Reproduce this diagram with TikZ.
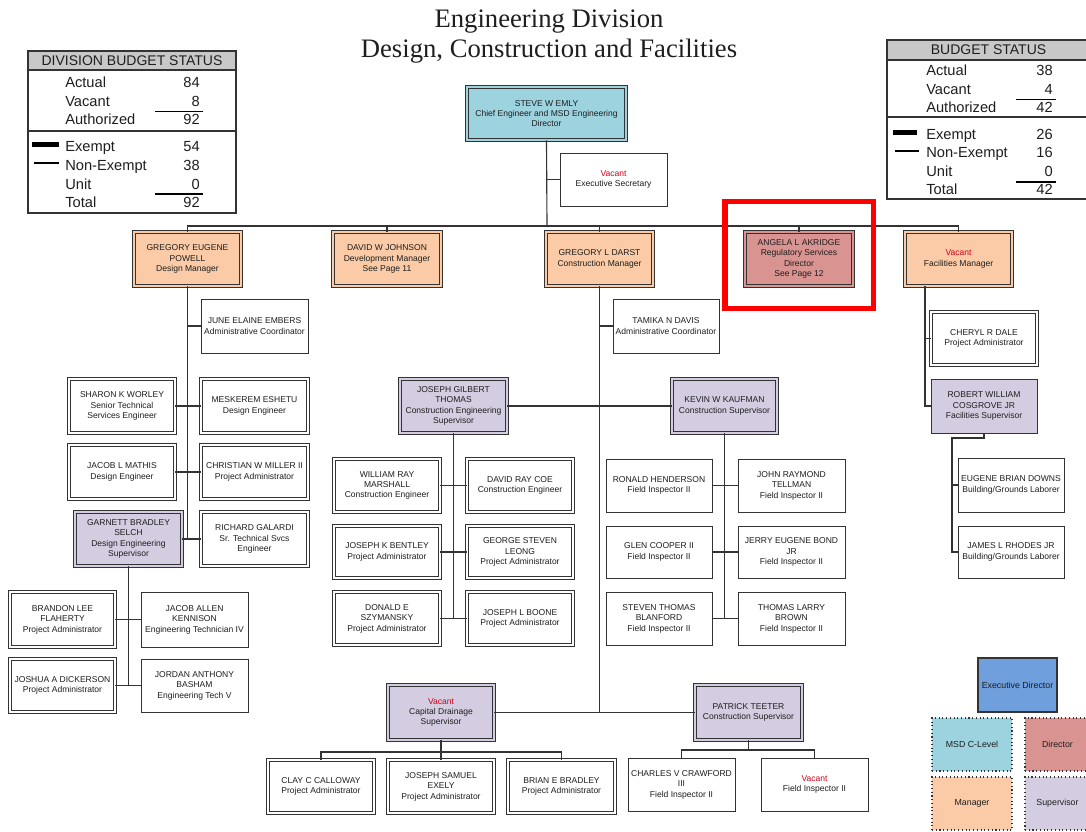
\documentclass[tikz,border=0pt]{standalone}
\usepackage{fontspec}
\setmainfont{Liberation Sans}
\newfontfamily\titlefont{Liberation Serif}
\definecolor{mgr}{HTML}{FACBA6}
\definecolor{ceo}{HTML}{9DD3DF}
\definecolor{dir}{HTML}{D99491}
\definecolor{sup}{HTML}{D4CDE1}
\definecolor{exd}{HTML}{6F9FDC}
\definecolor{vred}{HTML}{D0021B}
\definecolor{ln}{HTML}{333333}
\definecolor{hdr}{HTML}{C8C8C8}
\definecolor{txt}{HTML}{1E1E1E}
\newcommand\bxf{\fontsize{6.4}{7.8}\selectfont}
\newcommand\vac{{\color{vred}Vacant}}
\begin{document}
\begin{tikzpicture}[x=0.75pt,y=-0.75pt,
  rect/.style n args={4}{at={({(#1+#3)/2},{(#2+#4)/2})}, minimum width={(#3-#1)*0.75pt}, minimum height={(#4-#2)*0.75pt}},
  box/.style={inner sep=0pt, align=center, font=\bxf, text=txt},
  sx/.style={box, draw=ln, line width=0.6pt, fill=white},
  dx/.style={box, draw=ln, line width=0.45pt, double=white, double distance=1.4pt, fill=white},
  dmgr/.style={dx, fill=mgr, double=mgr},
  dceo/.style={dx, fill=ceo, double=ceo},
  ddir/.style={dx, fill=dir, double=dir},
  dsup/.style={dx, fill=sup, double=sup},
  ssup/.style={sx, fill=sup},
  conn/.style={draw=ln, line width=0.85pt},
  bud/.style={anchor=west, font=\fontsize{11}{13}\selectfont, text=txt, text height=8pt, text depth=2.2pt, inner sep=0pt},
  budn/.style={bud, anchor=east},
  budh/.style={draw=ln, line width=0.9pt, fill=hdr, inner sep=0pt, text=txt, font=\fontsize{10.5}{12}\selectfont},
  legd/.style={box, draw=ln, line width=0.8pt, dotted, font=\fontsize{6.6}{8}\selectfont}
]
\useasboundingbox (0,0) rectangle (1086,832);

% title
\node[font=\titlefont\fontsize{20}{22.5}\selectfont, align=center, text=txt, inner sep=0pt] (title) at (549,37) {Engineering Division\\Design, Construction and Facilities};

% ---------- left budget box
\node[draw=ln, line width=0.9pt, inner sep=0pt, rect={28}{51}{236}{213}] (lbud) {};
\node[budh, rect={28}{51}{236}{70}] (lbudh) {DIVISION BUDGET STATUS};
\coordinate (ldiv) at (0,131);
\draw[ln, line width=0.9pt] (lbud.west |- ldiv) -- (lbud.east |- ldiv);
\node[bud] (la1) at (65,84) {Actual};
\node[bud] (la2) at (65,103) {Vacant};
\node[bud] (la3) at (65,121) {Authorized};
\node[bud] (la4) at (65,148) {Exempt};
\node[bud] (la5) at (65,167) {Non-Exempt};
\node[bud] (la6) at (65,186) {Unit};
\node[bud] (la7) at (65,204) {Total};
\node[budn] (ln1) at (200,84) {84};
\node[budn] (ln2) at (200,103) {8};
\node[budn] (ln3) at (200,121) {92};
\node[budn] (ln4) at (200,148) {54};
\node[budn] (ln5) at (200,167) {38};
\node[budn] (ln6) at (200,186) {0};
\node[budn] (ln7) at (200,204) {92};
\coordinate (lu1a) at (155,111); \coordinate (lu1b) at (203,111);
\coordinate (lu2a) at (155,194); \coordinate (lu2b) at (203,194);
\draw[black, line width=0.7pt] (lu1a) -- (lu1b);
\draw[black, line width=1.5pt] (lu2a) -- (lu2b);
\coordinate (lbar1) at (32,142); \coordinate (lbar2) at (59,147);
\fill[black] (lbar1) rectangle (lbar2);
\coordinate (lne1) at (34,163); \coordinate (lne2) at (59,163);
\draw[black, line width=0.8pt] (lne1) -- (lne2);

% ---------- right budget box
\node[draw=ln, line width=0.9pt, inner sep=0pt, rect={887}{40}{1090}{199}] (rbud) {};
\node[budh, rect={887}{40}{1090}{60}] (rbudh) {BUDGET STATUS};
\coordinate (rdiv) at (0,117);
\draw[ln, line width=0.9pt] (rbud.west |- rdiv) -- (rbud.east |- rdiv);
\node[bud] (ra1) at (926,72) {Actual};
\node[bud] (ra2) at (926,91) {Vacant};
\node[bud] (ra3) at (926,109) {Authorized};
\node[bud] (ra4) at (926,136) {Exempt};
\node[bud] (ra5) at (926,154) {Non-Exempt};
\node[bud] (ra6) at (926,173) {Unit};
\node[bud] (ra7) at (926,191) {Total};
\node[budn] (rn1) at (1053,72) {38};
\node[budn] (rn2) at (1053,91) {4};
\node[budn] (rn3) at (1053,109) {42};
\node[budn] (rn4) at (1053,136) {26};
\node[budn] (rn5) at (1053,154) {16};
\node[budn] (rn6) at (1053,173) {0};
\node[budn] (rn7) at (1053,191) {42};
\coordinate (ru1a) at (1016,99); \coordinate (ru1b) at (1056,99);
\coordinate (ru2a) at (1016,182); \coordinate (ru2b) at (1056,182);
\draw[black, line width=0.7pt] (ru1a) -- (ru1b);
\draw[black, line width=1.5pt] (ru2a) -- (ru2b);
\coordinate (rbar1) at (893,130); \coordinate (rbar2) at (917,135);
\fill[black] (rbar1) rectangle (rbar2);
\coordinate (rne1) at (895,151); \coordinate (rne2) at (919,151);
\draw[black, line width=0.8pt] (rne1) -- (rne2);

% ---------- top
\node[dceo, rect={467}{87}{626}{140}] (ceo) {STEVE W EMLY\\Chief Engineer and MSD Engineering\\Director};
\node[sx, rect={560}{153}{667}{206}] (vacsec) {\vac\\Executive Secretary};

% ---------- managers
\node[dmgr, rect={134}{232}{241}{286}] (powell) {GREGORY EUGENE\\POWELL\\Design Manager};
\node[dmgr, rect={333}{232}{441}{286}] (johnson) {DAVID W JOHNSON\\Development Manager\\See Page 11};
\node[dmgr, rect={546}{232}{653}{286}] (darst) {GREGORY L DARST\\Construction Manager};
\node[ddir, rect={745}{232}{853}{286}] (akridge) {ANGELA L AKRIDGE\\Regulatory Services\\Director\\See Page 12};
\node[dmgr, rect={905}{232}{1012}{286}] (facil) {\vac\\Facilities Manager};

% ---------- Powell column
\node[sx, rect={201}{299}{308}{353}] (june) {JUNE ELAINE EMBERS\\Administrative Coordinator};
\node[dx, rect={69}{379}{175}{433}] (sharon) {SHARON K WORLEY\\Senior Technical\\Services Engineer};
\node[dx, rect={201}{379}{308}{433}] (meskerem) {MESKEREM ESHETU\\Design Engineer};
\node[dx, rect={69}{445}{175}{499}] (mathis) {JACOB L MATHIS\\Design Engineer};
\node[dx, rect={201}{445}{308}{499}] (miller) {CHRISTIAN W MILLER II\\Project Administrator};
\node[dsup, rect={75}{512}{182}{566}] (selch) {GARNETT BRADLEY\\SELCH\\Design Engineering\\Supervisor};
\node[dx, rect={201}{512}{308}{566}] (galardi) {RICHARD GALARDI\\Sr. Technical Svcs\\Engineer};
\node[dx, rect={10}{592}{115}{647}] (flaherty) {BRANDON LEE\\FLAHERTY\\Project Administrator};
\node[sx, rect={141}{592}{248}{647}] (kennison) {JACOB ALLEN\\KENNISON\\Engineering Technician IV};
\node[dx, rect={10}{659}{115}{712}] (dickerson) {JOSHUA A DICKERSON\\Project Administrator};
\node[sx, rect={141}{659}{248}{712}] (basham) {JORDAN ANTHONY\\BASHAM\\Engineering Tech V};

% ---------- Darst column
\node[sx, rect={613}{299}{719}{353}] (tamika) {TAMIKA N DAVIS\\Administrative Coordinator};
\node[dsup, rect={400}{379}{507}{433}] (thomas) {JOSEPH GILBERT\\THOMAS\\Construction Engineering\\Supervisor};
\node[dsup, rect={672}{379}{777}{433}] (kaufman) {KEVIN W KAUFMAN\\Construction Supervisor};
\node[dx, rect={334}{459}{440}{512}] (marshall) {WILLIAM RAY\\MARSHALL\\Construction Engineer};
\node[dx, rect={467}{459}{573}{512}] (coe) {DAVID RAY COE\\Construction Engineer};
\node[dx, rect={334}{526}{440}{578}] (bentley) {JOSEPH K BENTLEY\\Project Administrator};
\node[dx, rect={467}{526}{573}{578}] (leong) {GEORGE STEVEN\\LEONG\\Project Administrator};
\node[dx, rect={334}{592}{440}{645}] (szymansky) {DONALD E\\SZYMANSKY\\Project Administrator};
\node[dx, rect={467}{592}{573}{645}] (boone) {JOSEPH L BOONE\\Project Administrator};
\node[sx, rect={606}{459}{712}{512}] (henderson) {RONALD HENDERSON\\Field Inspector II};
\node[sx, rect={738}{459}{845}{512}] (tellman) {JOHN RAYMOND\\TELLMAN\\Field Inspector II};
\node[sx, rect={606}{526}{712}{578}] (cooper) {GLEN COOPER II\\Field Inspector II};
\node[sx, rect={738}{526}{845}{578}] (bond) {JERRY EUGENE BOND\\JR\\Field Inspector II};
\node[sx, rect={606}{592}{712}{645}] (blanford) {STEVEN THOMAS\\BLANFORD\\Field Inspector II};
\node[sx, rect={738}{592}{845}{645}] (brown) {THOMAS LARRY\\BROWN\\Field Inspector II};
\node[dsup, rect={388}{685}{494}{740}] (capdrain) {\vac\\Capital Drainage\\Supervisor};
\node[dsup, rect={695}{685}{802}{740}] (teeter) {PATRICK TEETER\\Construction Supervisor};
\node[dx, rect={268}{760}{374}{813}] (calloway) {CLAY C CALLOWAY\\Project Administrator};
\node[dx, rect={388}{760}{494}{813}] (exely) {JOSEPH SAMUEL\\EXELY\\Project Administrator};
\node[dx, rect={508}{760}{615}{813}] (bradley) {BRIAN E BRADLEY\\Project Administrator};
\node[sx, rect={628}{758}{735}{811}] (crawford) {CHARLES V CRAWFORD\\III\\Field Inspector II};
\node[sx, rect={761}{758}{868}{811}] (vacfi) {\vac\\Field Inspector II};

% ---------- Facilities column
\node[dx, rect={931}{312}{1037}{365}] (dale) {CHERYL R DALE\\Project Administrator};
\node[ssup, rect={931}{379}{1037}{433}] (cosgrove) {ROBERT WILLIAM\\COSGROVE JR\\Facilities Supervisor};
\node[sx, rect={958}{458}{1064}{512}] (downs) {EUGENE BRIAN DOWNS\\Building/Grounds Laborer};
\node[sx, rect={958}{526}{1064}{578}] (rhodes) {JAMES L RHODES JR\\Building/Grounds Laborer};

% ---------- legend
\node[box, draw=ln, line width=0.8pt, fill=exd, font=\fontsize{6.6}{8}\selectfont, rect={978}{658}{1057}{712}] (lexd) {Executive Director};
\node[legd, fill=ceo, rect={932}{718}{1012}{771}] (lmsd) {MSD C-Level};
\node[legd, fill=dir, rect={1025}{718}{1090}{771}] (ldir) {Director};
\node[legd, fill=mgr, rect={932}{777}{1012}{830}] (lmgr) {Manager};
\node[legd, fill=sup, rect={1025}{777}{1090}{830}] (lsup) {Supervisor};

% ---------- connectors
\coordinate (bus) at (547,226);
\draw[conn] (ceo.south) -- (bus);
\draw[conn] (powell.north) -- (powell.north |- bus) -- (facil.north |- bus) -- (facil.north);
\draw[conn] (johnson.north) -- (johnson.north |- bus);
\draw[conn] (darst.north) -- (darst.north |- bus);
\draw[conn] (akridge.north) -- (akridge.north |- bus);
\draw[conn] (ceo.south |- vacsec.west) -- (vacsec.west);

% Powell
\draw[conn] (powell.south) -- (powell.south |- galardi.west);
\draw[conn] (powell.south |- june.west) -- (june.west);
\draw[conn] (sharon.east) -- (meskerem.west);
\draw[conn] (mathis.east) -- (miller.west);
\draw[conn] (selch.east) -- (galardi.west);
\draw[conn] (selch.south) -- (selch.south |- basham.west);
\draw[conn] (flaherty.east) -- (kennison.west);
\draw[conn] (dickerson.east) -- (basham.west);

% Darst
\draw[conn] (darst.south) -- (darst.south |- capdrain.east);
\draw[conn] (darst.south |- tamika.west) -- (tamika.west);
\draw[conn] (thomas.east) -- (kaufman.west);
\draw[conn] (thomas.south) -- (thomas.south |- boone.west);
\draw[conn] (marshall.east) -- (coe.west);
\draw[conn] (bentley.east) -- (leong.west);
\draw[conn] (szymansky.east) -- (boone.west);
\draw[conn] (kaufman.south) -- (kaufman.south |- brown.west);
\draw[conn] (henderson.east) -- (tellman.west);
\draw[conn] (cooper.east) -- (bond.west);
\draw[conn] (blanford.east) -- (brown.west);
\draw[conn] (capdrain.east) -- (teeter.west);
\coordinate (cdbus) at (441,752);
\draw[conn] (capdrain.south) -- (exely.north);
\draw[conn] (calloway.north) |- (bradley.north |- cdbus) -- (bradley.north);
\coordinate (tbus) at (748,750);
\draw[conn] (teeter.south) -- (teeter.south |- tbus);
\draw[conn] (crawford.north) |- (vacfi.north |- tbus) -- (vacfi.north);

% Facilities
\coordinate (fdrop) at (925,286);
\draw[conn] (fdrop) |- (cosgrove.west);
\draw[conn] (fdrop |- dale.west) -- (dale.west);
\coordinate (cj) at (952,438);
\draw[conn] (cosgrove.south) |- (cj) |- (rhodes.west);
\draw[conn] (cj |- downs.west) -- (downs.west);

% highlight
\node[draw=red, line width=4.1pt, inner sep=0pt, rect={725}{201.5}{873.5}{308.5}] (hl) {};
\end{tikzpicture}
\end{document}
